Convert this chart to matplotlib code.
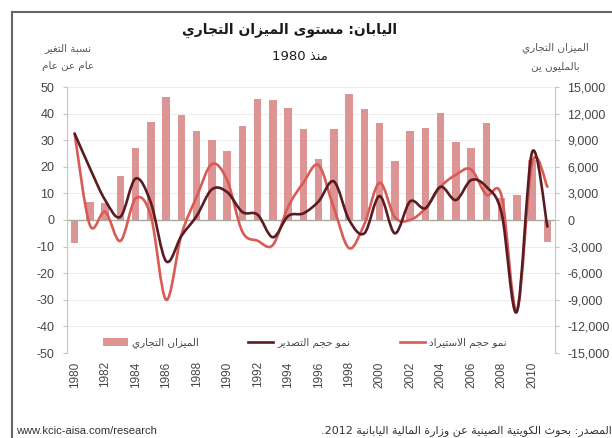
import numpy as np
import matplotlib
matplotlib.use("Agg")
import matplotlib.pyplot as plt
from matplotlib.path import Path
from matplotlib.patches import PathPatch, Patch
from matplotlib.lines import Line2D
from matplotlib.ticker import FuncFormatter

plt.rcParams['axes.unicode_minus'] = False

# ---------------- data ----------------
years = list(range(1980, 2012))
trade_balance = [-2600, 2070, 1900, 4950, 8150, 11000, 13850, 11850, 10070, 9000,
                 7780, 10600, 13650, 13530, 12600, 10230, 6880, 10230, 14200, 12490,
                 10900, 6690, 10070, 10340, 12100, 8850, 8070, 10900, 2450, 2800,
                 6750, -2450]
export_growth = [32.5, 19.5, 7.5, 1.2, 15.6, 6.5, -15.5, -6.0, 1.5, 11.5,
                 10.5, 3.0, 2.0, -6.5, 1.5, 2.5, 7.0, 14.5, 0.0, -5.0,
                 9.0, -5.0, 7.0, 4.4, 12.5, 7.5, 15.0, 12.5, 2.5, -34.5,
                 25.5, -2.5]
import_growth = [32.5, -1.9, 3.1, -7.9, 8.1, 1.5, -30.0, -5.6, 8.7, 21.0,
                 15.0, -4.4, -7.8, -9.4, 5.0, 14.0, 20.6, 4.5, -10.6, -1.5,
                 14.0, 1.0, 0.0, 4.4, 12.5, 17.0, 19.0, 9.5, 9.0, -34.0,
                 21.5, 12.5]
left_ticks = list(range(-50, 51, 10))
right_ticks = list(range(-15000, 15001, 3000))
xtick_years = years[::2][:16]

title_txt = "اليابان: مستوى الميزان التجاري"
subtitle_word = "منذ"
subtitle_year = "1980"
left_label = ["نسبة التغير", "عام عن عام"]
right_label = ["الميزان التجاري", "بالمليون ين"]
legend_labels = ["الميزان التجاري", "نمو حجم التصدير", "نمو حجم الاستيراد"]
source_txt = "المصدر: بحوث الكويتية الصينية عن وزارة المالية اليابانية"
source_year = "2012"
website = "www.kcic-aisa.com/research"

# ---------------- Arabic shaping (presentation forms + visual order) -------------
def _four(b):
    return tuple(chr(b + i) for i in range(4))

def _two(b):
    return (chr(b), chr(b + 1), None, None)

FORMS = {
    '\u0621': ('\uFE80', None, None, None),
    '\u0622': _two(0xFE81), '\u0623': _two(0xFE83), '\u0624': _two(0xFE85),
    '\u0625': _two(0xFE87), '\u0626': _four(0xFE89), '\u0627': _two(0xFE8D),
    '\u0628': _four(0xFE8F), '\u0629': _two(0xFE93), '\u062A': _four(0xFE95),
    '\u062B': _four(0xFE99), '\u062C': _four(0xFE9D), '\u062D': _four(0xFEA1),
    '\u062E': _four(0xFEA5), '\u062F': _two(0xFEA9), '\u0630': _two(0xFEAB),
    '\u0631': _two(0xFEAD), '\u0632': _two(0xFEAF), '\u0633': _four(0xFEB1),
    '\u0634': _four(0xFEB5), '\u0635': _four(0xFEB9), '\u0636': _four(0xFEBD),
    '\u0637': _four(0xFEC1), '\u0638': _four(0xFEC5), '\u0639': _four(0xFEC9),
    '\u063A': _four(0xFECD), '\u0641': _four(0xFED1), '\u0642': _four(0xFED5),
    '\u0643': _four(0xFED9), '\u0644': _four(0xFEDD), '\u0645': _four(0xFEE1),
    '\u0646': _four(0xFEE5), '\u0647': _four(0xFEE9), '\u0648': _two(0xFEED),
    '\u0649': _two(0xFEEF), '\u064A': _four(0xFEF1),
}
LAM_ALEF = {'\u0622': ('\uFEF5', '\uFEF6', None, None),
            '\u0623': ('\uFEF7', '\uFEF8', None, None),
            '\u0625': ('\uFEF9', '\uFEFA', None, None),
            '\u0627': ('\uFEFB', '\uFEFC', None, None)}

def ar(text):
    toks = []
    i = 0
    while i < len(text):
        c = text[i]
        if c == '\u0644' and i + 1 < len(text) and text[i + 1] in LAM_ALEF:
            toks.append(LAM_ALEF[text[i + 1]])
            i += 2
            continue
        toks.append(FORMS.get(c, c))
        i += 1
    out = []
    for k, t in enumerate(toks):
        if isinstance(t, str):
            out.append(t)
            continue
        prev = toks[k - 1] if k > 0 else None
        nxt = toks[k + 1] if k + 1 < len(toks) else None
        jp = isinstance(prev, tuple) and prev[2] is not None
        jn = t[2] is not None and isinstance(nxt, tuple)
        if jp and jn:
            out.append(t[3])
        elif jp:
            out.append(t[1])
        elif jn:
            out.append(t[2])
        else:
            out.append(t[0])
    return ''.join(out)[::-1]

AR_FONT = 'DejaVu Sans'
NUM_FONT = 'Liberation Sans'

# ---------------- colours ----------------
BAR_C = '#DC9494'
RED_C = '#DA5A56'
DARK_C = '#5A1C22'
AXIS_C = '#C6C6C6'
TXT_C = '#454545'

# ---------------- figure ----------------
W, H = 612, 438
fig = plt.figure(figsize=(W / 100, H / 100), dpi=100)
fig.patch.set_facecolor('white')

L, R, T, B = 67, 555, 87, 353
ax = fig.add_axes([L / W, 1 - B / H, (R - L) / W, (B - T) / H])
ax2 = ax.twinx()
ax.set_zorder(ax2.get_zorder() + 1)
ax.patch.set_visible(False)

x = np.arange(len(years))

# bars on the right axis
ax2.bar(x, trade_balance, width=0.48, color=BAR_C, zorder=2, linewidth=0)
ax2.set_ylim(-15000, 15000)
ax2.set_yticks(right_ticks)
ax2.yaxis.set_major_formatter(FuncFormatter(lambda v, p: f"{int(v):,}"))
ax2.yaxis.grid(True, color='#EEEEEE', lw=0.8)
ax2.set_axisbelow(True)

# smoothed lines (Catmull-Rom -> cubic Bezier), left axis
def smooth_path(xs, ys):
    pts = np.column_stack([xs, ys]).astype(float)
    n = len(pts)
    verts = [pts[0]]
    codes = [Path.MOVETO]
    for i in range(n - 1):
        p0 = pts[i - 1] if i > 0 else pts[i]
        p1 = pts[i]
        p2 = pts[i + 1]
        p3 = pts[i + 2] if i + 2 < n else pts[i + 1]
        c1 = p1 + (p2 - p0) / 6.0
        c2 = p2 - (p3 - p1) / 6.0
        verts += [c1, c2, p2]
        codes += [Path.CURVE4] * 3
    return Path(verts, codes)

ax.axhline(0, color='#A9A99C', lw=1.0, zorder=1)
ax.add_patch(PathPatch(smooth_path(x, import_growth), fill=False, edgecolor=RED_C,
                       lw=1.9, zorder=3, capstyle='round', joinstyle='round'))
ax.add_patch(PathPatch(smooth_path(x, export_growth), fill=False, edgecolor=DARK_C,
                       lw=1.9, zorder=4, capstyle='round', joinstyle='round'))

ax.set_xlim(-0.5, len(years) - 0.5)
ax.set_ylim(-50, 50)
ax.set_yticks(left_ticks)

for a in (ax, ax2):
    for s in a.spines.values():
        s.set_visible(False)
ax.spines['left'].set_visible(True)
ax.spines['left'].set_color(AXIS_C)
ax2.spines['right'].set_visible(True)
ax2.spines['right'].set_color(AXIS_C)

ax.tick_params(axis='y', length=3, color=AXIS_C, labelsize=9, labelcolor=TXT_C, pad=6)
ax2.tick_params(axis='y', length=3, color=AXIS_C, labelsize=9, labelcolor=TXT_C, pad=6)
for lab in ax.get_yticklabels() + ax2.get_yticklabels():
    lab.set_fontfamily(NUM_FONT)

ax.set_xticks([years.index(y) for y in xtick_years])
ax.set_xticklabels([str(y) for y in xtick_years], rotation=90, fontsize=8.5,
                   color=TXT_C, fontfamily=NUM_FONT)
ax.tick_params(axis='x', length=0, pad=6)
ax2.tick_params(axis='x', length=0)

# ---------------- texts ----------------
def fx(px):
    return px / W

def fy(py):
    return 1 - py / H

fig.text(fx(290), fy(30), ar(title_txt), ha='center', va='center', fontsize=10,
         fontweight='bold', family=AR_FONT, color='#1a1a1a')
fig.text(fx(300), fy(57), subtitle_year + " " + ar(subtitle_word), ha='center', va='center',
         fontsize=9.5, family=AR_FONT, color='#1a1a1a')
fig.text(fx(68), fy(48), ar(left_label[0]), ha='center', va='center', fontsize=7.5,
         family=AR_FONT, color='#555555')
fig.text(fx(68), fy(66), ar(left_label[1]), ha='center', va='center', fontsize=7.5,
         family=AR_FONT, color='#555555')
fig.text(fx(555), fy(48), ar(right_label[0]), ha='center', va='center', fontsize=7.5,
         family=AR_FONT, color='#555555')
fig.text(fx(555), fy(66), ar(right_label[1]), ha='center', va='center', fontsize=7.5,
         family=AR_FONT, color='#555555')

fig.text(fx(16), fy(431), website, ha='left', va='center', fontsize=8,
         family=NUM_FONT, color='#333333')
fig.text(fx(612), fy(431), "." + source_year + " " + ar(source_txt), ha='right', va='center',
         fontsize=8, family=AR_FONT, color='#333333')

# ---------------- legend ----------------
handles = [Patch(facecolor=BAR_C, edgecolor='none'),
           Line2D([], [], color=DARK_C, lw=1.9),
           Line2D([], [], color=RED_C, lw=1.9)]
leg_x = [103, 248, 400]
for h, lab, lx in zip(handles, legend_labels, leg_x):
    lg = fig.legend([h], [ar(lab)], loc='center left', bbox_to_anchor=(fx(lx), fy(343)),
                    frameon=False, borderpad=0, borderaxespad=0, handletextpad=0.4,
                    handlelength=2.4, handleheight=0.8,
                    prop={'family': AR_FONT, 'size': 7.5})
    for t in lg.get_texts():
        t.set_color('#444444')

# ---------------- outer frame ----------------
fig.add_artist(Line2D([fx(12), fx(12)], [0, fy(12)], transform=fig.transFigure,
                      color='#666666', lw=1.5))
fig.add_artist(Line2D([fx(12), 1], [fy(12), fy(12)], transform=fig.transFigure,
                      color='#666666', lw=1.5))

fig.savefig('out.png', dpi=100, facecolor='white')
